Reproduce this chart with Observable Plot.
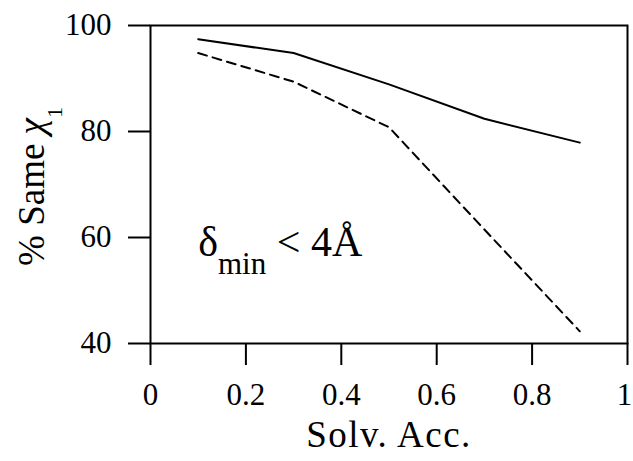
<!DOCTYPE html>
<html>
<head>
<meta charset="utf-8">
<script src="https://cdn.jsdelivr.net/npm/d3@7"></script>
<script src="https://cdn.jsdelivr.net/npm/@observablehq/plot@0.6"></script>
<style>
  html, body { margin: 0; padding: 0; background: #fff; }
  #chart svg { display: block; }
</style>
</head>
<body>
<div id="chart"></div>
<script>
// Data
const solvAcc = [0.1, 0.3, 0.5, 0.7, 0.9];
const solidSeries = [97.4, 94.8, 88.9, 82.4, 77.9];
const dashedSeries = [94.8, 89.4, 80.8, 61.5, 42.3];

const xTicks = [0, 0.2, 0.4, 0.6, 0.8, 1];
const xTickLabels = ["0", "0.2", "0.4", "0.6", "0.8", "1"];
const yTicks = [40, 60, 80, 100];
const yTickLabels = ["40", "60", "80", "100"];

const xTitle = "Solv. Acc.";
const yTitleMain = "% Same ";
const yTitleChi = "χ";
const yTitleSub = "1";
const annMain = "δ";
const annSub = "min";
const annRest = " < 4Å";

const solidData = solvAcc.map((x, i) => ({x, y: solidSeries[i]}));
const dashedData = solvAcc.map((x, i) => ({x, y: dashedSeries[i]}));

const FONT = "'Liberation Serif', 'Times New Roman', serif";

const chart = Plot.plot({
  width: 633,
  height: 461,
  marginLeft: 150,
  marginRight: 6,
  marginTop: 25,
  marginBottom: 118,
  style: {fontFamily: FONT, color: "black", background: "white", overflow: "visible"},
  x: {domain: [0, 1]},
  y: {domain: [40, 100]},
  marks: [
    Plot.frame({stroke: "black", strokeWidth: 2}),
    Plot.axisX({
      ticks: xTicks,
      tickFormat: (d, i) => xTickLabels[i],
      tickSize: 22,
      tickPadding: 17,
      strokeWidth: 2,
      fontSize: 31,
      label: null
    }),
    Plot.axisY({
      ticks: yTicks,
      tickFormat: (d, i) => yTickLabels[i],
      tickSize: 22,
      tickPadding: 17,
      strokeWidth: 2,
      fontSize: 31,
      label: null
    }),
    Plot.line(solidData, {x: "x", y: "y", stroke: "black", strokeWidth: 2}),
    Plot.line(dashedData, {x: "x", y: "y", stroke: "black", strokeWidth: 2, strokeDasharray: "9,6"}),
    Plot.text([xTitle], {
      frameAnchor: "bottom", textAnchor: "middle", lineAnchor: "bottom",
      dy: 103, fontSize: 37, text: d => d
    }),
    Plot.text([yTitleMain + yTitleChi + yTitleSub], {
      frameAnchor: "left", textAnchor: "middle", lineAnchor: "bottom",
      rotate: -90, dx: -107, dy: 2, fontSize: 37, text: d => d
    }),
    Plot.text([annMain + annSub + annRest], {
      x: 0.1, y: 56.6, textAnchor: "start", lineAnchor: "bottom",
      fontSize: 42, text: d => d
    })
  ]
});

// Rich text (subscripts) via tspans, and nudge the edge tick label inward
const svg = d3.select(chart);
svg.selectAll("text").each(function() {
  const t = d3.select(this);
  const content = this.textContent;
  if (content === yTitleMain + yTitleChi + yTitleSub) {
    t.text(null);
    t.append("tspan").text(yTitleMain);
    t.append("tspan").attr("font-style", "italic").text(yTitleChi);
    t.append("tspan").attr("dy", "18").attr("font-size", 22).text(yTitleSub);
  } else if (content === annMain + annSub + annRest) {
    t.text(null);
    t.append("tspan").text(annMain);
    t.append("tspan").attr("dy", "18").attr("font-size", 31).text(annSub);
    t.append("tspan").attr("dy", "-18").text(annRest);
  } else if (content === xTitle) {
    t.attr("letter-spacing", "1.5px");
  } else if (content === xTickLabels[xTickLabels.length - 1]) {
    t.attr("dx", -3);
  }
});

document.getElementById("chart").appendChild(chart);
</script>
</body>
</html>
